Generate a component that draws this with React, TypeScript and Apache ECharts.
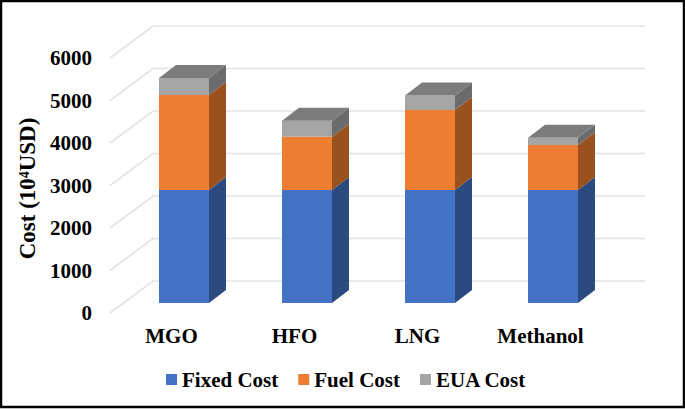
import React, { useEffect, useRef } from "react";
import * as echarts from "echarts";

const categories = ["MGO", "HFO", "LNG", "Methanol"];
const fixedCost = [2660, 2660, 2660, 2660];
const fuelCost = [2235, 1250, 1880, 1060];
const euaCost = [400, 380, 340, 170];
const ticks = [0, 1000, 2000, 3000, 4000, 5000, 6000];

const FONT = "'Liberation Serif', 'Times New Roman', serif";
const DEPTH_X = 17;
const DEPTH_Y = 13;
const WALL_X = 43;
const WALL_Y = 32;
const BAR_SHIFT_X = 12.5;
const BAR_SHIFT_Y = 10;
const BAR_FRACTION = 50 / 123;

function stackedData(lower: number[][], values: number[]) {
  return values.map((v, i) => {
    const base = lower.reduce((sum, arr) => sum + arr[i], 0);
    return [i, base, base + v];
  });
}

function barRenderer(front: string, side: string, top?: string) {
  return (_params: any, api: any) => {
    const cat = api.value(0);
    const p0 = api.coord([cat, api.value(1)]);
    const p1 = api.coord([cat, api.value(2)]);
    const w = api.size([1, 0])[0] * BAR_FRACTION;
    const x0 = p0[0] + BAR_SHIFT_X - w / 2;
    const x1 = x0 + w;
    const yb = p0[1] - BAR_SHIFT_Y;
    const yt = p1[1] - BAR_SHIFT_Y;
    const children: any[] = [
      {
        type: "polygon",
        shape: { points: [[x1, yb], [x1 + DEPTH_X, yb - DEPTH_Y], [x1 + DEPTH_X, yt - DEPTH_Y], [x1, yt]] },
        style: { fill: side },
      },
      {
        type: "rect",
        shape: { x: x0, y: yt, width: w, height: yb - yt },
        style: { fill: front },
      },
    ];
    if (top) {
      children.push({
        type: "polygon",
        shape: { points: [[x0, yt], [x1, yt], [x1 + DEPTH_X, yt - DEPTH_Y], [x0 + DEPTH_X, yt - DEPTH_Y]] },
        style: { fill: top },
      });
    }
    return { type: "group", children };
  };
}

function wallRenderer(params: any, api: any) {
  const rect = params.coordSys;
  const y = api.coord([0, api.value(1)])[1];
  const x0 = rect.x;
  const x1 = rect.x + rect.width + WALL_X;
  return {
    type: "polyline",
    shape: { points: [[x0, y], [x0 + WALL_X, y - WALL_Y], [x1, y - WALL_Y]] },
    style: { stroke: "#E3E3E3", lineWidth: 1.6, fill: "none" },
  };
}

export default function App() {
  const ref = useRef<HTMLDivElement>(null);
  useEffect(() => {
    document.body.style.margin = "0";
    const chart = echarts.init(ref.current!, undefined, { renderer: "svg" });
    chart.setOption({
      animation: false,
      backgroundColor: "#FFFFFF",
      grid: { left: 110, top: 58, width: 492, height: 255, containLabel: false },
      legend: {
        left: 166,
        top: 369,
        icon: "rect",
        itemWidth: 11,
        itemHeight: 11,
        itemGap: 20,
        padding: 0,
        data: ["Fixed Cost", "Fuel Cost", "EUA Cost"],
        textStyle: { fontFamily: FONT, fontWeight: "bold", fontSize: 21, color: "#000" },
      },
      xAxis: {
        type: "category",
        data: categories,
        axisLine: { show: false },
        axisTick: { show: false },
        axisLabel: { fontFamily: FONT, fontWeight: "bold", fontSize: 21, color: "#000", margin: 12 },
      },
      yAxis: {
        type: "value",
        min: 0,
        max: 6000,
        interval: 1000,
        splitLine: { show: false },
        axisLine: { show: false },
        axisTick: { show: false },
        axisLabel: {
          fontFamily: FONT,
          fontWeight: "bold",
          fontSize: 21,
          color: "#000",
          margin: 18,
          formatter: (v: number) => String(v),
        },
        name: "Cost (10⁴USD)",
        nameLocation: "middle",
        nameRotate: 90,
        nameGap: 71,
        nameTextStyle: { fontFamily: FONT, fontWeight: "bold", fontSize: 23, color: "#000", padding: [0, 6, 0, 0] },
      },
      graphic: [
        {
          type: "rect",
          silent: true,
          z: 100,
          shape: { x: 1, y: 1, width: 683, height: 406 },
          style: { fill: "none", stroke: "#000", lineWidth: 2.5 },
        },
      ],
      series: [
        {
          type: "custom",
          name: "walls",
          z: 1,
          silent: true,
          renderItem: wallRenderer,
          encode: { x: 0, y: 1 },
          data: ticks.map((t) => [0, t]),
        },
        {
          type: "custom",
          name: "Fixed Cost",
          z: 2,
          itemStyle: { color: "#4472C4" },
          renderItem: barRenderer("#4472C4", "#2B4A80"),
          encode: { x: 0, y: [1, 2] },
          data: stackedData([], fixedCost),
        },
        {
          type: "custom",
          name: "Fuel Cost",
          z: 2,
          itemStyle: { color: "#ED7D31" },
          renderItem: barRenderer("#ED7D31", "#9A511E"),
          encode: { x: 0, y: [1, 2] },
          data: stackedData([fixedCost], fuelCost),
        },
        {
          type: "custom",
          name: "EUA Cost",
          z: 2,
          itemStyle: { color: "#A5A5A5" },
          renderItem: barRenderer("#A5A5A5", "#6B6B6B", "#7C7C7C"),
          encode: { x: 0, y: [1, 2] },
          data: stackedData([fixedCost, fuelCost], euaCost),
        },
      ],
    });
    return () => chart.dispose();
  }, []);
  return <div ref={ref} style={{ width: 685, height: 409 }} />;
}
